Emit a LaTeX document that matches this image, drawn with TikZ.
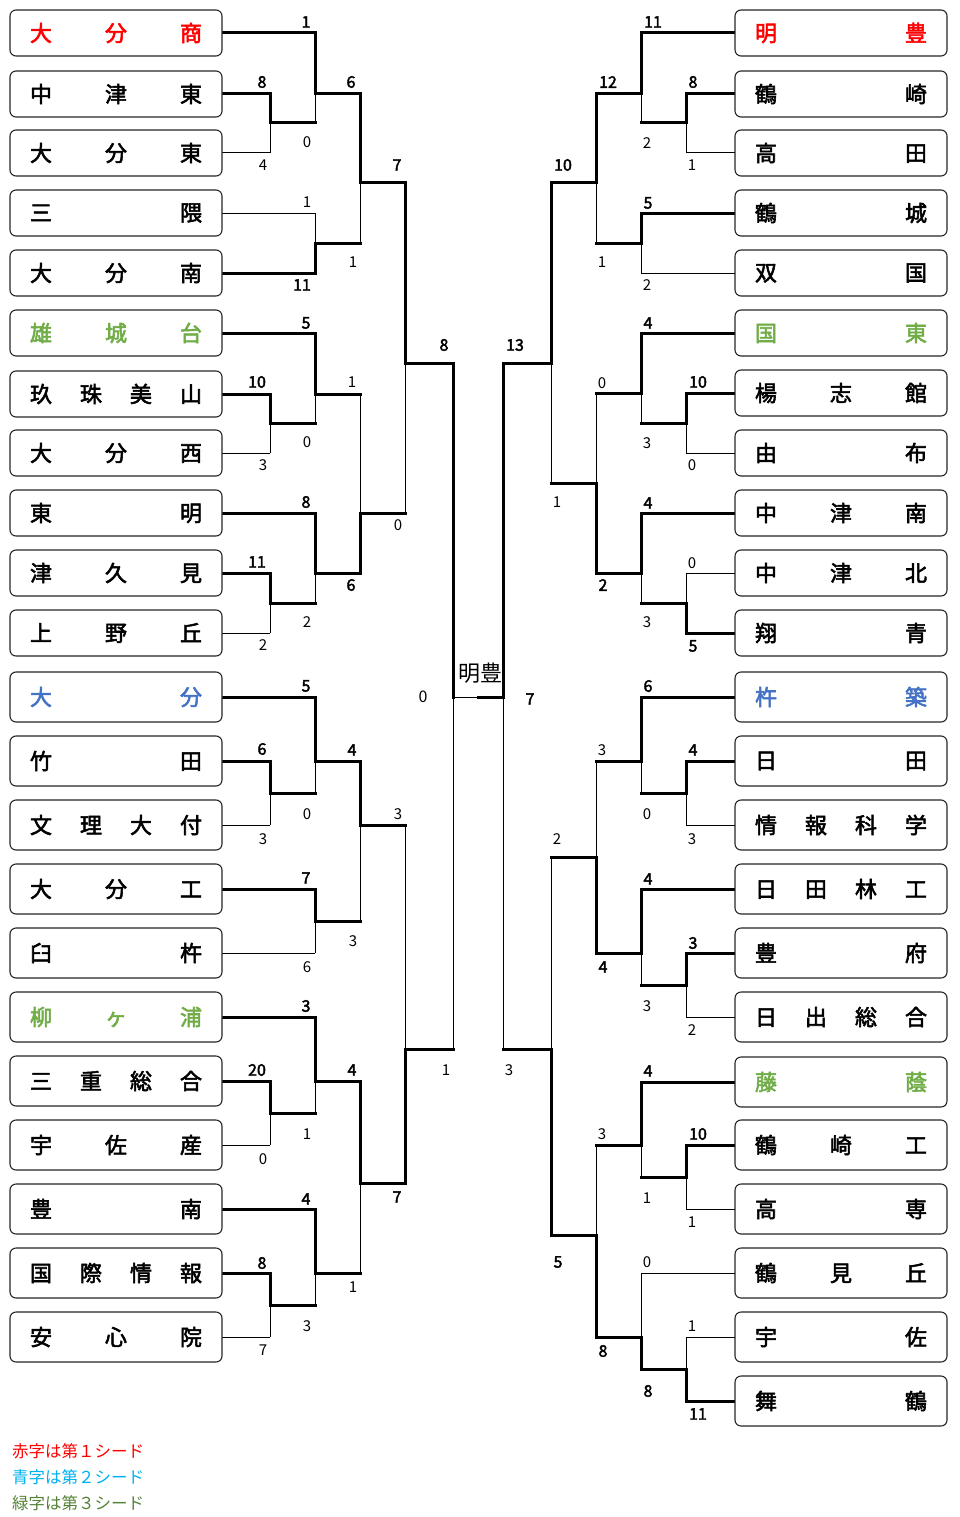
\documentclass[tikz,border=0pt]{standalone}
\usepackage{fontspec}
\newfontfamily\cjk[AutoFakeBold=2.5]{Noto Sans CJK JP}
\definecolor{tred}{HTML}{FF0000}
\definecolor{tblue}{HTML}{4472C4}
\definecolor{tgreen}{HTML}{70AD47}
\definecolor{lblue}{HTML}{00B0F0}
\definecolor{lgreen}{HTML}{548235}
\definecolor{boxc}{HTML}{262626}
\pgfdeclarelayer{bg}
\pgfsetlayers{bg,main}
\newcount\scn
\newcommand\scW[3]{\global\advance\scn by 1 \node[scw] (sc\the\scn) at (#1,#2) {#3};}
\newcommand\scL[3]{\global\advance\scn by 1 \node[scl] (sc\the\scn) at (#1,#2) {#3};}
\newcommand\tm[4]{\node[tbox,#2] (#1) at (#3) {\makebox[172pt]{#4}};}
\newcommand\mt[6]{\coordinate (#1t) at (#2,#3);\coordinate (#1b) at (#2,#4);\coordinate (#1) at (#2,#5);
  \draw[ln] (#1t) -- (#1b);\draw[wl] (#1#6) -- (#1);}
\begin{document}
\begin{tikzpicture}[x=1pt,y=-1pt,
  tbox/.style={draw=boxc, line width=1.1pt, rounded corners=6pt, minimum width=212pt, inner sep=0pt, outer sep=0pt, fill=white, font=\cjk\bfseries\fontsize{22}{22}\selectfont},
  hA/.style={minimum height=46pt}, hB/.style={minimum height=50pt},
  ln/.style={line width=1pt},
  wl/.style={line width=3pt, line cap=rect},
  scw/.style={font=\cjk\bfseries\fontsize{16}{16}\selectfont, inner sep=0pt},
  scl/.style={font=\cjk\fontsize{15}{15}\selectfont, inner sep=0pt},
  leg/.style={anchor=west, inner sep=0pt, font=\cjk\fontsize{16.5}{16.5}\selectfont}]
\useasboundingbox (0,0) rectangle (960,1517);
% ---------- left teams ----------
\tm{L1}{hA,text=tred}{116,33}{大\hfill 分\hfill 商}
\tm{L2}{hA}{116,94}{中\hfill 津\hfill 東}
\tm{L3}{hA}{116,153}{大\hfill 分\hfill 東}
\tm{L4}{hA}{116,213}{三\hfill 隈}
\tm{L5}{hA}{116,273}{大\hfill 分\hfill 南}
\tm{L6}{hA,text=tgreen}{116,333}{雄\hfill 城\hfill 台}
\tm{L7}{hA}{116,394}{玖\hfill 珠\hfill 美\hfill 山}
\tm{L8}{hA}{116,453}{大\hfill 分\hfill 西}
\tm{L9}{hA}{116,513}{東\hfill 明}
\tm{L10}{hA}{116,573}{津\hfill 久\hfill 見}
\tm{L11}{hA}{116,633}{上\hfill 野\hfill 丘}
\tm{L12}{hB,text=tblue}{116,697}{大\hfill 分}
\tm{L13}{hB}{116,761}{竹\hfill 田}
\tm{L14}{hB}{116,825}{文\hfill 理\hfill 大\hfill 付}
\tm{L15}{hB}{116,889}{大\hfill 分\hfill 工}
\tm{L16}{hB}{116,953}{臼\hfill 杵}
\tm{L17}{hB,text=tgreen}{116,1017}{柳\hfill ヶ\hfill 浦}
\tm{L18}{hB}{116,1081}{三\hfill 重\hfill 総\hfill 合}
\tm{L19}{hB}{116,1145}{宇\hfill 佐\hfill 産}
\tm{L20}{hB}{116,1209}{豊\hfill 南}
\tm{L21}{hB}{116,1273}{国\hfill 際\hfill 情\hfill 報}
\tm{L22}{hB}{116,1337}{安\hfill 心\hfill 院}
% ---------- right teams ----------
\tm{R1}{hA,text=tred}{841,33}{明\hfill 豊}
\tm{R2}{hA}{841,94}{鶴\hfill 崎}
\tm{R3}{hA}{841,153}{高\hfill 田}
\tm{R4}{hA}{841,213}{鶴\hfill 城}
\tm{R5}{hA}{841,273}{双\hfill 国}
\tm{R6}{hA,text=tgreen}{841,333}{国\hfill 東}
\tm{R7}{hA}{841,393}{楊\hfill 志\hfill 館}
\tm{R8}{hA}{841,453}{由\hfill 布}
\tm{R9}{hA}{841,513}{中\hfill 津\hfill 南}
\tm{R10}{hA}{841,573}{中\hfill 津\hfill 北}
\tm{R11}{hA}{841,633}{翔\hfill 青}
\tm{R12}{hB,text=tblue}{841,697}{杵\hfill 築}
\tm{R13}{hB}{841,761}{日\hfill 田}
\tm{R14}{hB}{841,825}{情\hfill 報\hfill 科\hfill 学}
\tm{R15}{hB}{841,889}{日\hfill 田\hfill 林\hfill 工}
\tm{R16}{hB}{841,953}{豊\hfill 府}
\tm{R17}{hB}{841,1017}{日\hfill 出\hfill 総\hfill 合}
\tm{R18}{hB,text=tgreen}{841,1082}{藤\hfill 蔭}
\tm{R19}{hB}{841,1145}{鶴\hfill 崎\hfill 工}
\tm{R20}{hB}{841,1209}{高\hfill 専}
\tm{R21}{hB}{841,1273}{鶴\hfill 見\hfill 丘}
\tm{R22}{hB}{841,1337}{宇\hfill 佐}
\tm{R23}{hB}{841,1401}{舞\hfill 鶴}
\begin{pgfonlayer}{bg}
% ---------- left matches ----------
\mt{A1}{270}{94}{153}{123}{t}
\mt{A2}{315}{33}{123}{94}{t}
\mt{A3}{315}{213}{273}{243}{b}
\mt{A4}{360}{94}{243}{183}{t}
\mt{A5}{270}{394}{453}{423}{t}
\mt{A6}{315}{333}{423}{394}{t}
\mt{A7}{270}{573}{633}{603}{t}
\mt{A8}{315}{513}{603}{573}{t}
\mt{A9}{360}{394}{573}{513}{b}
\mt{A10}{405}{183}{513}{363}{t}
\mt{A11}{270}{761}{825}{793}{t}
\mt{A12}{315}{697}{793}{761}{t}
\mt{A13}{315}{889}{953}{921}{t}
\mt{A14}{360}{761}{921}{825}{t}
\mt{A15}{270}{1081}{1145}{1113}{t}
\mt{A16}{315}{1017}{1113}{1081}{t}
\mt{A17}{270}{1273}{1337}{1305}{t}
\mt{A18}{315}{1209}{1305}{1273}{t}
\mt{A19}{360}{1081}{1273}{1183}{t}
\mt{A20}{405}{825}{1183}{1049}{b}
\mt{A21}{453}{363}{1049}{697}{t}
% ---------- right matches ----------
\mt{B1}{686}{94}{153}{123}{t}
\mt{B2}{641}{33}{123}{94}{t}
\mt{B3}{641}{213}{273}{243}{t}
\mt{B4}{596}{94}{243}{183}{t}
\mt{B5}{686}{393}{453}{423}{t}
\mt{B6}{641}{333}{423}{393}{t}
\mt{B7}{686}{573}{633}{603}{b}
\mt{B8}{641}{513}{603}{573}{t}
\mt{B9}{596}{393}{573}{483}{b}
\mt{B10}{551}{183}{483}{363}{t}
\mt{B11}{686}{761}{825}{793}{t}
\mt{B12}{641}{697}{793}{761}{t}
\mt{B13}{686}{953}{1017}{985}{t}
\mt{B14}{641}{889}{985}{953}{t}
\mt{B15}{596}{761}{953}{857}{b}
\mt{B16}{686}{1145}{1209}{1177}{t}
\mt{B17}{641}{1082}{1177}{1145}{t}
\mt{B18}{686}{1337}{1401}{1369}{b}
\mt{B19}{641}{1273}{1369}{1337}{b}
\mt{B20}{596}{1145}{1337}{1235}{b}
\mt{B21}{551}{857}{1235}{1049}{b}
\mt{B22}{503}{363}{1049}{697}{t}
% ---------- team lines left ----------
\draw[wl] (L1.east) -- (A2t);
\draw[wl] (L2.east) -- (A1t);
\draw[ln] (L3.east) -- (A1b);
\draw[ln] (L4.east) -- (A3t);
\draw[wl] (L5.east) -- (A3b);
\draw[wl] (L6.east) -- (A6t);
\draw[wl] (L7.east) -- (A5t);
\draw[ln] (L8.east) -- (A5b);
\draw[wl] (L9.east) -- (A8t);
\draw[wl] (L10.east) -- (A7t);
\draw[ln] (L11.east) -- (A7b);
\draw[wl] (L12.east) -- (A12t);
\draw[wl] (L13.east) -- (A11t);
\draw[ln] (L14.east) -- (A11b);
\draw[wl] (L15.east) -- (A13t);
\draw[ln] (L16.east) -- (A13b);
\draw[wl] (L17.east) -- (A16t);
\draw[wl] (L18.east) -- (A15t);
\draw[ln] (L19.east) -- (A15b);
\draw[wl] (L20.east) -- (A18t);
\draw[wl] (L21.east) -- (A17t);
\draw[ln] (L22.east) -- (A17b);
% ---------- team lines right ----------
\draw[wl] (B2t) -- (R1.west);
\draw[wl] (B1t) -- (R2.west);
\draw[ln] (B1b) -- (R3.west);
\draw[wl] (B3t) -- (R4.west);
\draw[ln] (B3b) -- (R5.west);
\draw[wl] (B6t) -- (R6.west);
\draw[wl] (B5t) -- (R7.west);
\draw[ln] (B5b) -- (R8.west);
\draw[wl] (B8t) -- (R9.west);
\draw[ln] (B7t) -- (R10.west);
\draw[wl] (B7b) -- (R11.west);
\draw[wl] (B12t) -- (R12.west);
\draw[wl] (B11t) -- (R13.west);
\draw[ln] (B11b) -- (R14.west);
\draw[wl] (B14t) -- (R15.west);
\draw[wl] (B13t) -- (R16.west);
\draw[ln] (B13b) -- (R17.west);
\draw[wl] (B17t) -- (R18.west);
\draw[wl] (B16t) -- (R19.west);
\draw[ln] (B16b) -- (R20.west);
\draw[ln] (B19t) -- (R21.west);
\draw[ln] (B18t) -- (R22.west);
\draw[wl] (B18b) -- (R23.west);
% ---------- winner paths ----------
\draw[wl] (A1) -- (A2b);  \draw[wl] (A2) -- (A4t);  \draw[wl] (A3) -- (A4b);
\draw[wl] (A4) -- (A10t); \draw[wl] (A5) -- (A6b);  \draw[wl] (A6) -- (A9t);
\draw[wl] (A7) -- (A8b);  \draw[wl] (A8) -- (A9b);  \draw[wl] (A9) -- (A10b);
\draw[wl] (A10) -- (A21t);\draw[wl] (A11) -- (A12b);\draw[wl] (A12) -- (A14t);
\draw[wl] (A13) -- (A14b);\draw[wl] (A14) -- (A20t);\draw[wl] (A15) -- (A16b);
\draw[wl] (A16) -- (A19t);\draw[wl] (A17) -- (A18b);\draw[wl] (A18) -- (A19b);
\draw[wl] (A19) -- (A20b);\draw[wl] (A20) -- (A21b);
\draw[wl] (B1) -- (B2b);  \draw[wl] (B2) -- (B4t);  \draw[wl] (B3) -- (B4b);
\draw[wl] (B4) -- (B10t); \draw[wl] (B5) -- (B6b);  \draw[wl] (B6) -- (B9t);
\draw[wl] (B7) -- (B8b);  \draw[wl] (B8) -- (B9b);  \draw[wl] (B9) -- (B10b);
\draw[wl] (B10) -- (B22t);\draw[wl] (B11) -- (B12b);\draw[wl] (B12) -- (B15t);
\draw[wl] (B13) -- (B14b);\draw[wl] (B14) -- (B15b);\draw[wl] (B15) -- (B21t);
\draw[wl] (B16) -- (B17b);\draw[wl] (B17) -- (B20t);\draw[wl] (B18) -- (B19b);
\draw[wl] (B19) -- (B20b);\draw[wl] (B20) -- (B21b);\draw[wl] (B21) -- (B22b);
% ---------- final ----------
\coordinate (fm) at (478,697);
\draw[ln] (A21) -- (fm);
\draw[wl] (B22) -- (fm);
\end{pgfonlayer}
\node[inner sep=0pt, font=\cjk\fontsize{22}{22}\selectfont] (champ) at (480,673) {明豊};
\node[inner sep=0pt, font=\cjk\fontsize{16}{16}\selectfont] (fl) at (423,697) {0};
\node[inner sep=0pt, font=\cjk\bfseries\fontsize{16}{16}\selectfont] (fr) at (530,699) {7};
% ---------- scores left ----------
\scW{262}{82}{8}   \scL{263}{165}{4}
\scW{306}{22}{1}   \scL{307}{142}{0}
\scL{307}{202}{1}  \scW{302}{285}{11}
\scW{351}{82}{6}   \scL{353}{262}{1}
\scW{257}{382}{10} \scL{263}{465}{3}
\scW{306}{323}{5}  \scL{307}{442}{0}
\scW{257}{562}{11} \scL{263}{645}{2}
\scW{306}{502}{8}  \scL{307}{622}{2}
\scL{352}{382}{1}  \scW{351}{585}{6}
\scW{397}{165}{7}  \scL{398}{525}{0}
\scW{262}{749}{6}  \scL{263}{839}{3}
\scW{306}{686}{5}  \scL{307}{814}{0}
\scW{306}{878}{7}  \scL{307}{967}{6}
\scW{352}{750}{4}  \scL{353}{941}{3}
\scW{257}{1070}{20} \scL{263}{1159}{0}
\scW{306}{1006}{3} \scL{307}{1134}{1}
\scW{262}{1263}{8} \scL{263}{1350}{7}
\scW{306}{1199}{4} \scL{307}{1326}{3}
\scW{352}{1070}{4} \scL{353}{1287}{1}
\scL{398}{814}{3}  \scW{397}{1197}{7}
\scW{444}{345}{8}  \scL{446}{1070}{1}
% ---------- scores right ----------
\scW{693}{82}{8}   \scL{692}{165}{1}
\scW{653}{22}{11}  \scL{647}{143}{2}
\scW{648}{203}{5}  \scL{647}{285}{2}
\scW{608}{82}{12}  \scL{602}{262}{1}
\scW{698}{382}{10} \scL{692}{465}{0}
\scW{648}{323}{4}  \scL{647}{443}{3}
\scL{692}{563}{0}  \scW{693}{646}{5}
\scW{648}{503}{4}  \scL{647}{622}{3}
\scL{602}{383}{0}  \scW{603}{585}{2}
\scW{563}{165}{10} \scL{557}{502}{1}
\scW{693}{750}{4}  \scL{692}{839}{3}
\scW{648}{686}{6}  \scL{647}{814}{0}
\scW{693}{943}{3}  \scL{692}{1030}{2}
\scW{648}{879}{4}  \scL{647}{1006}{3}
\scL{602}{750}{3}  \scW{603}{967}{4}
\scW{698}{1134}{10} \scL{692}{1222}{1}
\scW{648}{1071}{4} \scL{647}{1198}{1}
\scL{692}{1326}{1} \scW{698}{1414}{11}
\scL{647}{1262}{0} \scW{648}{1391}{8}
\scL{602}{1134}{3} \scW{603}{1351}{8}
\scL{557}{839}{2}  \scW{558}{1262}{5}
\scW{515}{345}{13} \scL{509}{1070}{3}
% ---------- legend ----------
\node[leg, text=tred] (lg1) at (12,1451) {赤字は第１シード};
\node[leg, text=lblue] (lg2) at (12,1477) {青字は第２シード};
\node[leg, text=lgreen] (lg3) at (12,1503) {緑字は第３シード};
\end{tikzpicture}
\end{document}
